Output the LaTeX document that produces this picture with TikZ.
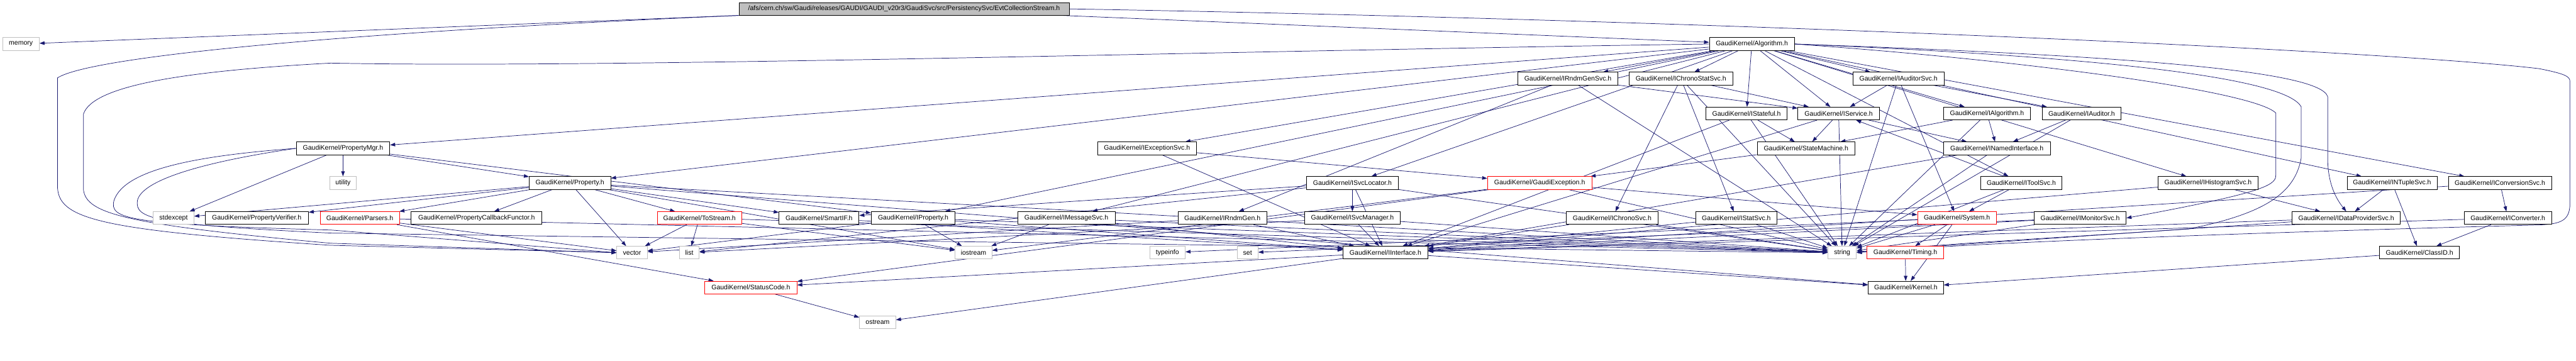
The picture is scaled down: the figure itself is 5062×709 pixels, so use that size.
\documentclass[tikz,border=0pt]{standalone}
\usepackage{fontspec}
\setmainfont{Liberation Sans}
\usetikzlibrary{arrows.meta,backgrounds}

\definecolor{edgeblue}{HTML}{191970}
\definecolor{sysgrey}{HTML}{BFBFBF}

\begin{document}
\begin{tikzpicture}[x=1pt, y=-1pt,
        hdr/.style={rectangle, draw=black, fill=white, line width=1pt, minimum height=25, inner sep=0pt,
            font=\fontsize{13}{15}\selectfont},
        syshdr/.style={hdr, draw=sysgrey},
        trunc/.style={hdr, draw=red},
        mainfile/.style={hdr, fill=sysgrey},
        dep/.style={-{Triangle[length=10pt,width=7pt]}, draw=edgeblue, line width=0.9pt}
    ]
        \useasboundingbox (0,0) rectangle (5062,709);

        % row 1 and 2
        \node[mainfile, minimum width=649] (root) at (1776.5,17.5)
            {/afs/cern.ch/sw/Gaudi/releases/GAUDI/GAUDI\_v20r3/GaudiSvc/src/PersistencySvc/EvtCollectionStream.h};
        \node[syshdr, minimum width=72] (memory) at (41,86.5) {memory};
        \node[hdr, minimum width=167] (Algorithm) at (3442.5,86.5) {GaudiKernel/Algorithm.h};

        % row 3
        \node[hdr, minimum width=196] (IRndmGenSvc) at (3081,154.5) {GaudiKernel/IRndmGenSvc.h};
        \node[hdr, minimum width=204] (IChronoStatSvc) at (3303,154.5) {GaudiKernel/IChronoStatSvc.h};
        \node[hdr, minimum width=179] (IAuditorSvc) at (3730.5,154.5) {GaudiKernel/IAuditorSvc.h};

        % row 4
        \node[hdr, minimum width=160] (IStateful) at (3432,223) {GaudiKernel/IStateful.h};
        \node[hdr, minimum width=160] (IService) at (3613,223) {GaudiKernel/IService.h};
        \node[hdr, minimum width=171] (IAlgorithm) at (3904.5,223) {GaudiKernel/IAlgorithm.h};
        \node[hdr, minimum width=155] (IAuditor) at (4090.5,223) {GaudiKernel/IAuditor.h};

        % row 5
        \node[hdr, minimum width=184] (PropertyMgr) at (674,291.5) {GaudiKernel/PropertyMgr.h};
        \node[hdr, minimum width=194] (IExceptionSvc) at (2254,291.5) {GaudiKernel/IExceptionSvc.h};
        \node[hdr, minimum width=192] (StateMachine) at (3549,291.5) {GaudiKernel/StateMachine.h};
        \node[hdr, minimum width=210] (INamedInterface) at (3924,291.5) {GaudiKernel/INamedInterface.h};

        % row 6
        \node[syshdr, minimum width=52] (utility) at (674,359.5) {utility};
        \node[hdr, minimum width=160] (Property) at (1120,359.5) {GaudiKernel/Property.h};
        \node[hdr, minimum width=181] (ISvcLocator) at (2657.5,359.5) {GaudiKernel/ISvcLocator.h};
        \node[trunc, minimum width=205] (GaudiException) at (3025.5,359.5) {GaudiKernel/GaudiException.h};
        \node[hdr, minimum width=160] (IToolSvc) at (3972,359.5) {GaudiKernel/IToolSvc.h};
        \node[hdr, minimum width=196] (IHistogramSvc) at (4339,359.5) {GaudiKernel/IHistogramSvc.h};
        \node[hdr, minimum width=177] (INTupleSvc) at (4700.5,359.5) {GaudiKernel/INTupleSvc.h};
        \node[hdr, minimum width=203] (IConversionSvc) at (4912.5,359.5) {GaudiKernel/IConversionSvc.h};

        % row 7
        \node[syshdr, minimum width=80] (stdexcept) at (341,428.5) {stdexcept};
        \node[hdr, minimum width=203] (PropertyVerifier) at (504.5,428.5) {GaudiKernel/PropertyVerifier.h};
        \node[trunc, minimum width=156] (Parsers) at (707,428.5) {GaudiKernel/Parsers.h};
        \node[hdr, minimum width=257] (PropertyCallbackFunctor) at (936.5,428.5) {GaudiKernel/PropertyCallbackFunctor.h};
        \node[trunc, minimum width=165] (ToStream) at (1374.5,428.5) {GaudiKernel/ToStream.h};
        \node[hdr, minimum width=157] (SmartIF) at (1609.5,428.5) {GaudiKernel/SmartIF.h};
        \node[hdr, minimum width=165] (IProperty) at (1794.5,428.5) {GaudiKernel/IProperty.h};
        \node[hdr, minimum width=191] (IMessageSvc) at (2095.5,428.5) {GaudiKernel/IMessageSvc.h};
        \node[hdr, minimum width=174] (IRndmGen) at (2402,428.5) {GaudiKernel/IRndmGen.h};
        \node[hdr, minimum width=187] (ISvcManager) at (2657.5,428.5) {GaudiKernel/ISvcManager.h};
        \node[hdr, minimum width=180] (IChronoSvc) at (3168,428.5) {GaudiKernel/IChronoSvc.h};
        \node[hdr, minimum width=160] (IStatSvc) at (3412,428.5) {GaudiKernel/IStatSvc.h};
        \node[trunc, minimum width=155] (System) at (3845.5,428.5) {GaudiKernel/System.h};
        \node[hdr, minimum width=181] (IMonitorSvc) at (4087.5,428.5) {GaudiKernel/IMonitorSvc.h};
        \node[hdr, minimum width=213] (IDataProviderSvc) at (4610.5,428.5) {GaudiKernel/IDataProviderSvc.h};
        \node[hdr, minimum width=172] (IConverter) at (4928,428.5) {GaudiKernel/IConverter.h};

        % row 8
        \node[syshdr, minimum width=60] (vector) at (1242,496.5) {vector};
        \node[syshdr, minimum width=39] (list) at (1354.5,496.5) {list};
        \node[syshdr, minimum width=72] (iostream) at (1913,496.5) {iostream};
        \node[syshdr, minimum width=70] (typeinfo) at (2294,496.5) {typeinfo};
        \node[syshdr, minimum width=41] (set) at (2451.5,496.5) {set};
        \node[hdr, minimum width=167] (IInterface) at (2722.5,496.5) {GaudiKernel/IInterface.h};
        \node[syshdr, minimum width=56] (string) at (3620,496.5) {string};
        \node[trunc, minimum width=150] (Timing) at (3744,496.5) {GaudiKernel/Timing.h};
        \node[hdr, minimum width=157] (ClassID) at (4754.5,496.5) {GaudiKernel/ClassID.h};

        % rows 9 and 10
        \node[trunc, minimum width=181] (StatusCode) at (1475.5,565) {GaudiKernel/StatusCode.h};
        \node[hdr, minimum width=148] (Kernel) at (3745,565) {GaudiKernel/Kernel.h};
        \node[syshdr, minimum width=71] (ostream) at (1724.5,633.5) {ostream};

        \begin{scope}[on background layer]
        % straight includes
        \foreach \src/\dst in {root/memory, root/Algorithm,
                Algorithm/IRndmGenSvc, Algorithm/IChronoStatSvc, Algorithm/IAuditorSvc, Algorithm/IStateful,
                Algorithm/IService, Algorithm/IAlgorithm, Algorithm/IToolSvc, Algorithm/IHistogramSvc,
                Algorithm/INTupleSvc, Algorithm/IConversionSvc, Algorithm/PropertyMgr, Algorithm/Property,
                Algorithm/ISvcLocator, Algorithm/IMessageSvc, Algorithm/IExceptionSvc, Algorithm/IProperty,
                IRndmGenSvc/IService, IRndmGenSvc/IRndmGen, IRndmGenSvc/string,
                IChronoStatSvc/IService, IChronoStatSvc/IChronoSvc, IChronoStatSvc/IStatSvc, IChronoStatSvc/string,
                IAuditorSvc/IService, IAuditorSvc/IAuditor, IAuditorSvc/string, IAuditorSvc/System,
                IStateful/StateMachine, IStateful/string, IStateful/IInterface,
                IService/StateMachine, IService/INamedInterface, IService/string, IService/IInterface,
                IAlgorithm/INamedInterface, IAlgorithm/StateMachine, IAlgorithm/string,
                IAuditor/INamedInterface, IAuditor/string,
                StateMachine/GaudiException, INamedInterface/IInterface, INamedInterface/string,
                PropertyMgr/utility, PropertyMgr/stdexcept, PropertyMgr/Property, PropertyMgr/IProperty,
                IExceptionSvc/GaudiException, IExceptionSvc/IInterface,
                Property/PropertyVerifier, Property/Parsers, Property/PropertyCallbackFunctor, Property/ToStream,
                Property/SmartIF, Property/stdexcept, Property/vector, Property/string, Property/iostream,
                Property/Kernel,
                Parsers/vector, Parsers/string, Parsers/StatusCode,
                ToStream/vector, ToStream/list, ToStream/iostream, ToStream/string,
                SmartIF/IInterface,
                IProperty/IInterface, IProperty/iostream, IProperty/string, IProperty/vector,
                IMessageSvc/iostream, IMessageSvc/string, IMessageSvc/IInterface,
                IRndmGen/vector, IRndmGen/IInterface,
                ISvcLocator/ISvcManager, ISvcLocator/IInterface, ISvcLocator/string, ISvcLocator/list,
                ISvcLocator/SmartIF,
                ISvcManager/IInterface, ISvcManager/string, ISvcManager/list,
                GaudiException/System, GaudiException/string, GaudiException/iostream, GaudiException/StatusCode,
                IToolSvc/System, IToolSvc/IService, IToolSvc/string,
                IHistogramSvc/IDataProviderSvc, IHistogramSvc/IInterface,
                INTupleSvc/IDataProviderSvc, INTupleSvc/ClassID,
                IConversionSvc/IConverter, IConversionSvc/IInterface,
                IChronoSvc/string, IChronoSvc/IInterface, IStatSvc/string, IStatSvc/IInterface,
                System/Kernel, System/string, System/typeinfo, System/Timing,
                IMonitorSvc/set, IMonitorSvc/string, IMonitorSvc/IInterface,
                IDataProviderSvc/string, IDataProviderSvc/IInterface,
                IConverter/ClassID, IConverter/IInterface, ClassID/Kernel,
                IInterface/Kernel, IInterface/StatusCode, IInterface/ostream,
                StatusCode/ostream, Timing/Kernel}
            \draw[dep] (\src) -- (\dst);

        % long detours round the left side
        \draw[dep] (root.south west) .. controls (700,62) and (180,110) .. (113,153) -- (113,365)
            .. controls (113,430) and (190,452) .. (650,482) -- (vector.west);
        \draw[dep] (Algorithm.west) .. controls (2400,100) and (1200,135) .. (650,124)
            .. controls (350,140) and (182,170) .. (164,224) -- (164,373)
            .. controls (170,420) and (245,441) .. (650,478) -- (vector.west);
        \draw[dep] (PropertyMgr.west) .. controls (400,305) and (245,330) .. (224,394)
            .. controls (215,430) and (247,441) .. (650,452) -- (vector.west);
        \draw[dep] (PropertyMgr.west) .. controls (420,315) and (280,350) .. (270,394)
            .. controls (265,430) and (300,441) .. (650,458) .. controls (1500,470) and (3000,490) .. (string.west);

        % long detours round the right side
        \draw[dep] (root.east) .. controls (3400,40) and (4700,100) .. (4990,135)
            .. controls (5040,145) and (5050,150) .. (5050,160) -- (5050,400)
            .. controls (5050,435) and (5030,440) .. (4990,442)
            .. controls (4500,455) and (3900,475) .. (string.east);
        \draw[dep] (Algorithm.east) .. controls (4000,120) and (4430,180) .. (4472,222) -- (4472,345)
            .. controls (4472,365) and (4440,380) .. (IMonitorSvc.east);
        \draw[dep] (Algorithm.east) .. controls (4100,110) and (4490,150) .. (4522,210) -- (4522,310)
            .. controls (4510,380) and (4450,420) .. (4300,450) .. controls (4000,470) and (3800,480) .. (string.east);
        \draw[dep] (Algorithm.east) .. controls (4200,110) and (4560,140) .. (4574,190) -- (4574,310)
            .. controls (4574,360) and (4590,390) .. (IDataProviderSvc.north);
        \end{scope}
    \end{tikzpicture}
\end{document}
